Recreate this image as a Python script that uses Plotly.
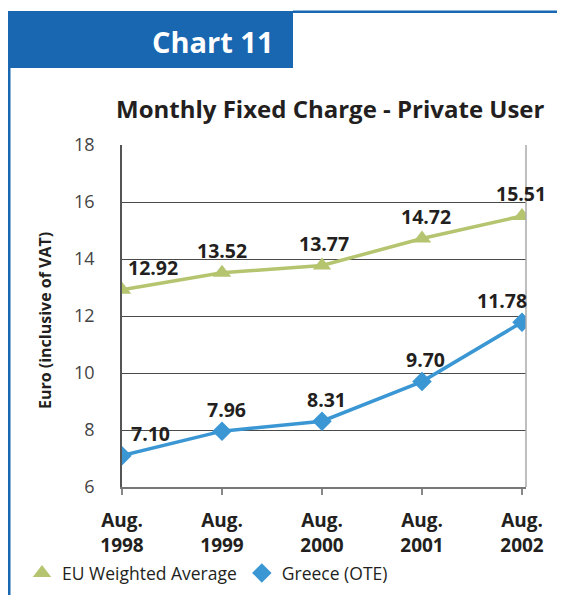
import plotly.graph_objects as go

categories = ["Aug.<br>1998", "Aug.<br>1999", "Aug.<br>2000", "Aug.<br>2001", "Aug.<br>2002"]
eu_values = [12.92, 13.52, 13.77, 14.72, 15.51]
greece_values = [7.10, 7.96, 8.31, 9.70, 11.78]
y_ticks = [6, 8, 10, 12, 14, 16, 18]

# the page body has an 8px margin, so work in reference pixels and shift by it
OFF = 8
W, H = 565 - OFF, 595 - OFF
L, R, T, B = 122, 526, 145, 487
PW, PH = R - L, B - T


def px(x):
    return (x - L) / PW


def py(y):
    return (B - y) / PH


FONT = "Open Sans"
GREEN = "#b5c46e"
BLUE = "#3a97d4"
HEADER = "#1966b1"
DARK = "#231f20"

fig = go.Figure()

for name, vals, col, sym, size in [
    ("EU Weighted Average", eu_values, GREEN, "triangle-up", 16),
    ("Greece (OTE)", greece_values, BLUE, "diamond", 15),
]:
    fig.add_trace(go.Scatter(x=categories, y=vals, mode="lines",
                             line=dict(color=col, width=3.5),
                             showlegend=False, legendgroup=name, hoverinfo="skip"))
    fig.add_trace(go.Scatter(x=categories, y=vals, mode="markers", name=name,
                             marker=dict(color=col, symbol=sym, size=size),
                             legendgroup=name))

annotations = []
for vals, shifts in [(eu_values, [31, 0, 2, 4, -1]), (greece_values, [28, 4, 4, 3, -20])]:
    for c, v, xs in zip(categories, vals, shifts):
        annotations.append(dict(x=c, y=v, text=f"{v:.2f}", showarrow=False,
                                xshift=xs, yshift=22,
                                font=dict(family=FONT, size=19.5, color=DARK, weight="bold")))


def page_text(x, y, text, size, color=DARK, angle=0, weight="bold"):
    return dict(xref="paper", yref="paper", x=px(x), y=py(y), text=text, showarrow=False,
                xanchor="center", yanchor="middle", textangle=angle,
                font=dict(family=FONT, size=size, color=color, weight=weight))


annotations.append(page_text(213, 41, "Chart 11", 29, color="white"))
annotations.append(page_text(330, 109, "Monthly Fixed Charge - Private User", 24))
annotations.append(page_text(45, 321, "Euro (inclusive of VAT)", 16, angle=-90))

shapes = [
    dict(type="rect", xref="paper", yref="paper", x0=px(5), x1=px(293), y0=py(68), y1=py(11),
         fillcolor=HEADER, line=dict(width=0), layer="below"),
    dict(type="rect", xref="paper", yref="paper", x0=px(293), x1=px(570), y0=py(13), y1=py(10.5),
         fillcolor=HEADER, line=dict(width=0), layer="below"),
    dict(type="rect", xref="paper", yref="paper", x0=px(8), x1=px(10.5), y0=py(600), y1=py(68),
         fillcolor=HEADER, line=dict(width=0), layer="below"),
    dict(type="line", xref="paper", yref="paper", x0=1, x1=1, y0=0, y1=1,
         line=dict(color="#aaaaaa", width=1.5)),
]

fig.update_layout(
    width=W, height=H,
    margin=dict(l=L - OFF, r=565 - R, t=T - OFF, b=595 - B, pad=0, autoexpand=False),
    paper_bgcolor="white", plot_bgcolor="white",
    font=dict(family=FONT, color=DARK),
    showlegend=True,
    legend=dict(orientation="h", xref="container", yref="container",
                x=(22 - OFF) / W, y=1 - (573 - OFF) / H, xanchor="left", yanchor="middle",
                font=dict(family=FONT, size=17.5, color=DARK), itemwidth=30,
                tracegroupgap=0, bgcolor="rgba(0,0,0,0)"),
    annotations=annotations,
    shapes=shapes,
    xaxis=dict(type="category", range=[0, 4.04], showgrid=False,
               showline=True, linecolor="#777777", linewidth=2,
               ticks="outside", ticklen=6, tickcolor="#888888", tickwidth=1.5,
               ticklabelstandoff=9,
               tickfont=dict(family=FONT, size=19, color=DARK, weight="bold")),
    yaxis=dict(range=[6, 18], tickvals=y_ticks, showgrid=True, gridcolor="#4a4a4a", gridwidth=1,
               showline=True, linecolor="#555555", linewidth=1.5, zeroline=False,
               ticks="", ticklabelstandoff=22,
               tickfont=dict(family=FONT, size=18, color="#444444")),
)

fig.write_html("out.html")
